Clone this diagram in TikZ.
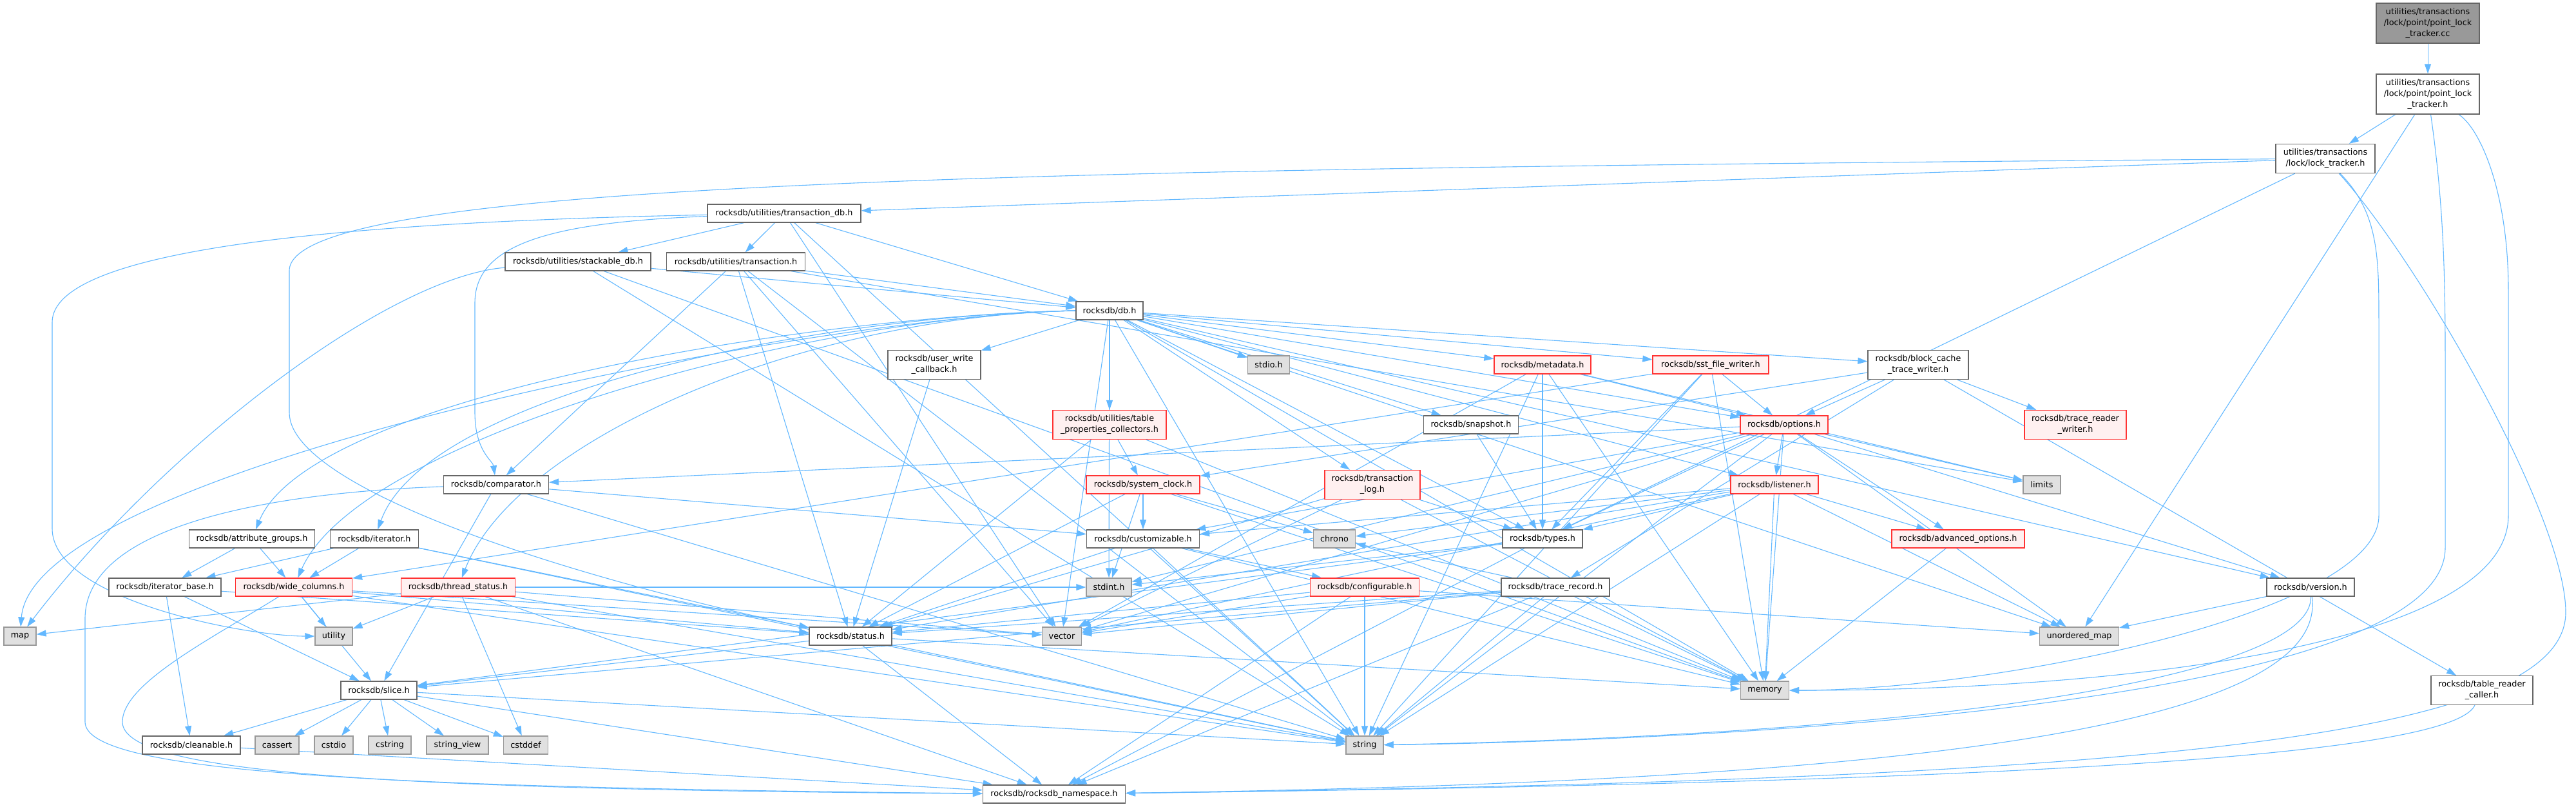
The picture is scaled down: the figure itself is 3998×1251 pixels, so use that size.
\documentclass[tikz,border=0pt]{standalone}
\usepackage{fontspec}
\setmainfont{DejaVu Sans}
\usepackage{xcolor}
\usetikzlibrary{arrows.meta, backgrounds}

\definecolor{edgeblue}{HTML}{63B8FF}
\definecolor{truncfill}{HTML}{FFF0F0}
\definecolor{sysfill}{HTML}{E0E0E0}
\definecolor{rootfill}{HTML}{999999}

\tikzset{
  hdr/.style={draw=black!60, fill=white, line width=1.3pt, minimum height=28pt,
    inner sep=0pt, align=center, font=\fontsize{12.8}{17}\selectfont},
  hdrtrunc/.style={hdr, draw=red!80!white, fill=truncfill},
  syshdr/.style={hdr, draw=black!40, fill=sysfill},
  rootfile/.style={hdr, draw=black!60, fill=rootfill},
  dep/.style={draw=edgeblue, line width=1.1pt, -{Triangle[length=15pt,width=10pt]}},
}

\begin{document}
\begin{tikzpicture}[x=1pt, y=-1pt]
  \useasboundingbox (0,0) rectangle (3998,1251);
  %% top: the file and its own headers
  \node[rootfile, minimum width=160pt, minimum height=62pt] (cc) at (3768,36) {utilities/transactions\\/lock/point/point\_lock\\\_tracker.cc};
  \node[hdr, minimum width=160pt, minimum height=62pt] (plth) at (3768,146) {utilities/transactions\\/lock/point/point\_lock\\\_tracker.h};
  \node[hdr, minimum width=154pt, minimum height=45pt] (locktr) at (3609,246) {utilities/transactions\\/lock/lock\_tracker.h};
  \node[hdr, minimum width=238pt] (txndb) at (1217,331) {rocksdb/utilities/transaction\_db.h};
  \node[hdr, minimum width=226pt] (stackdb) at (897,406) {rocksdb/utilities/stackable\_db.h};
  \node[hdr, minimum width=215pt] (txn) at (1142,406) {rocksdb/utilities/transaction.h};
  \node[hdr, minimum width=104pt] (db) at (1722,482) {rocksdb/db.h};
  %% headers pulled in by db.h
  \node[hdr, minimum width=144pt, minimum height=45pt] (uwcb) at (1450,566) {rocksdb/user\_write\\\_callback.h};
  \node[syshdr, minimum width=65pt] (stdioh) at (1969,566) {stdio.h};
  \node[hdrtrunc, minimum width=150pt] (metadata) at (2394,566) {rocksdb/metadata.h};
  \node[hdrtrunc, minimum width=180pt] (sstwriter) at (2655,566) {rocksdb/sst\_file\_writer.h};
  \node[hdr, minimum width=156pt, minimum height=45pt] (bctwriter) at (2977,566) {rocksdb/block\_cache\\\_trace\_writer.h};
  \node[hdrtrunc, minimum width=176pt, minimum height=45pt] (tblprop) at (1722,659) {rocksdb/utilities/table\\\_properties\_collectors.h};
  \node[hdr, minimum width=147pt] (snapshot) at (2283,659) {rocksdb/snapshot.h};
  \node[hdrtrunc, minimum width=136pt] (options) at (2769,659) {rocksdb/options.h};
  \node[hdrtrunc, minimum width=158pt, minimum height=45pt] (trwriter) at (3221,659) {rocksdb/trace\_reader\\\_writer.h};
  \node[hdr, minimum width=163pt] (comparator) at (770,752) {rocksdb/comparator.h};
  \node[hdrtrunc, minimum width=176pt] (sysclock) at (1774,752) {rocksdb/system\_clock.h};
  \node[hdrtrunc, minimum width=148pt, minimum height=45pt] (txnlog) at (2130,752) {rocksdb/transaction\\\_log.h};
  \node[hdrtrunc, minimum width=136pt] (listener) at (2754,752) {rocksdb/listener.h};
  \node[syshdr, minimum width=58pt] (limits) at (3169,752) {limits};
  \node[hdr, minimum width=195pt] (attrgrp) at (391,836) {rocksdb/attribute\_groups.h};
  \node[hdr, minimum width=137pt] (iterator) at (581,836) {rocksdb/iterator.h};
  \node[hdr, minimum width=175pt] (customizable) at (1774,836) {rocksdb/customizable.h};
  \node[syshdr, minimum width=65pt] (chrono) at (2071,836) {chrono};
  \node[hdr, minimum width=124pt] (types) at (2394,836) {rocksdb/types.h};
  \node[hdrtrunc, minimum width=206pt] (advopts) at (3039,836) {rocksdb/advanced\_options.h};
  \node[hdr, minimum width=174pt] (itbase) at (256,911) {rocksdb/iterator\_base.h};
  \node[hdrtrunc, minimum width=181pt] (widecols) at (456,911) {rocksdb/wide\_columns.h};
  \node[hdrtrunc, minimum width=177pt] (thrstatus) at (711,911) {rocksdb/thread\_status.h};
  \node[syshdr, minimum width=70pt] (stdint) at (1721,911) {stdint.h};
  \node[hdrtrunc, minimum width=169pt] (configurable) at (2118,911) {rocksdb/configurable.h};
  \node[hdr, minimum width=168pt] (tracerec) at (2414,911) {rocksdb/trace\_record.h};
  \node[hdr, minimum width=136pt] (version) at (3586,911) {rocksdb/version.h};
  %% lower rows
  \node[syshdr, minimum width=50pt] (map) at (31,987) {map};
  \node[syshdr, minimum width=58pt] (utility) at (518,987) {utility};
  \node[hdr, minimum width=128pt] (status) at (1320,987) {rocksdb/status.h};
  \node[syshdr, minimum width=61pt] (vector) at (1648,987) {vector};
  \node[syshdr, minimum width=123pt] (umap) at (3227,987) {unordered\_map};
  \node[hdr, minimum width=118pt] (slice) at (588,1071) {rocksdb/slice.h};
  \node[syshdr, minimum width=75pt] (memory) at (2739,1071) {memory};
  \node[hdr, minimum width=158pt, minimum height=45pt] (trcaller) at (3852,1071) {rocksdb/table\_reader\\\_caller.h};
  \node[hdr, minimum width=152pt] (cleanable) at (297,1156) {rocksdb/cleanable.h};
  \node[syshdr, minimum width=68pt] (cassert) at (430,1156) {cassert};
  \node[syshdr, minimum width=60pt] (cstdio) at (518,1156) {cstdio};
  \node[syshdr, minimum width=66pt] (cstring) at (605,1156) {cstring};
  \node[syshdr, minimum width=96pt] (strview) at (710,1156) {string\_view};
  \node[syshdr, minimum width=69pt] (cstddef) at (816,1156) {cstddef};
  \node[syshdr, minimum width=58pt] (string) at (2118,1156) {string};
  \node[hdr, minimum width=221pt] (rnspace) at (1636,1232) {rocksdb/rocksdb\_namespace.h};

  %% include edges, behind the boxes
  \begin{scope}[on background layer]
    \foreach \src/\dsts in {
      cc/{plth},
      plth/{locktr,umap},
      locktr/{txndb,types},
      txndb/{stackdb,txn,db,string,vector},
      stackdb/{db,memory,string},
      txn/{db,comparator,status,limits,string,vector},
      db/{bctwriter,listener,metadata,options,snapshot,sstwriter,txnlog,types,uwcb,version,tblprop,stdint,stdioh,memory,string,umap,vector},
      uwcb/{status},
      tblprop/{sysclock,status,memory},
      metadata/{options,types,limits,memory,string,vector},
      snapshot/{types},
      sstwriter/{options,types,widecols,memory,string},
      bctwriter/{options,sysclock,trwriter,tracerec,trcaller},
      options/{advopts,comparator,customizable,listener,types,version,limits,memory,string,umap,vector,stdint},
      sysclock/{customizable,chrono,stdint,status,memory},
      txnlog/{status,types,memory,vector},
      listener/{advopts,customizable,status,types,chrono,memory,string,umap,vector},
      advopts/{memory},
      customizable/{configurable,status,memory,string},
      configurable/{status,string,rnspace,umap,vector},
      tracerec/{status,slice,memory,string,vector,chrono,rnspace},
      types/{slice,stdint,rnspace},
      comparator/{customizable,slice,string},
      attrgrp/{itbase,widecols},
      iterator/{itbase,widecols,status,string},
      itbase/{cleanable,slice,status},
      widecols/{slice,status,utility,string,vector},
      thrstatus/{map,utility,cstddef,string,vector,stdint,rnspace},
      status/{slice,memory,string,rnspace},
      slice/{cleanable,cassert,cstdio,cstring,strview,cstddef,string,rnspace},
      cleanable/{rnspace},
      version/{umap}}{
      \foreach \dst in \dsts
        \draw[dep] (\src) -- (\dst);
    }
    %% db.h fans out to the left
    \foreach \dst/\cx/\cy in {attrgrp/90/-220, iterator/80/-220, widecols/100/-230, thrstatus/90/-230, map/20/-260}
      \draw[dep] (db.west) .. controls +(-420,8) and +(\cx,\cy) .. (\dst);
    %% long routed edges
    \draw[dep] (txndb) .. controls (500,345) and (81,390) .. (81,500) -- (81,820)
      .. controls (81,930) and (380,987) .. (utility);
    \draw[dep] (txndb) .. controls (850,345) and (737,380) .. (737,470) -- (737,640)
      .. controls (737,700) and (765,715) .. (comparator);
    \draw[dep] (stackdb) .. controls (600,430) and (250,700) .. (map);
    \draw[dep] (locktr) .. controls (1600,262) and (449,280) .. (449,420) -- (449,640)
      .. controls (449,760) and (900,900) .. (status);
    \draw[dep] (locktr) .. controls (3692,330) and (3692,400) .. (3692,500) -- (3692,800)
      .. controls (3692,950) and (3100,1071) .. (memory);
    \draw[dep] (locktr) .. controls (3750,400) and (3982,800) .. (3982,950)
      .. controls (3982,1150) and (3300,1210) .. (rnspace);
    \draw[dep] (plth) .. controls (3790,300) and (3795,400) .. (3795,550) -- (3795,850)
      .. controls (3795,1100) and (2600,1150) .. (string);
    \draw[dep] (plth) .. controls (3850,200) and (3893,300) .. (3893,450) -- (3893,800)
      .. controls (3893,1000) and (3300,1071) .. (memory);
    \draw[dep] (comparator) .. controls (400,765) and (132,820) .. (132,960) -- (132,1120)
      .. controls (132,1200) and (600,1222) .. (rnspace);
    \draw[dep] (widecols) .. controls (330,990) and (190,1060) .. (190,1120)
      .. controls (190,1200) and (600,1225) .. (rnspace);
    \draw[dep] (version) .. controls (3590,1050) and (3000,1140) .. (string);
    \draw[dep] (version) .. controls (3620,1150) and (2800,1215) .. (rnspace);
    \draw[dep] (trcaller) .. controls (3800,1180) and (3000,1215) .. (rnspace);
  \end{scope}
\end{tikzpicture}
\end{document}
